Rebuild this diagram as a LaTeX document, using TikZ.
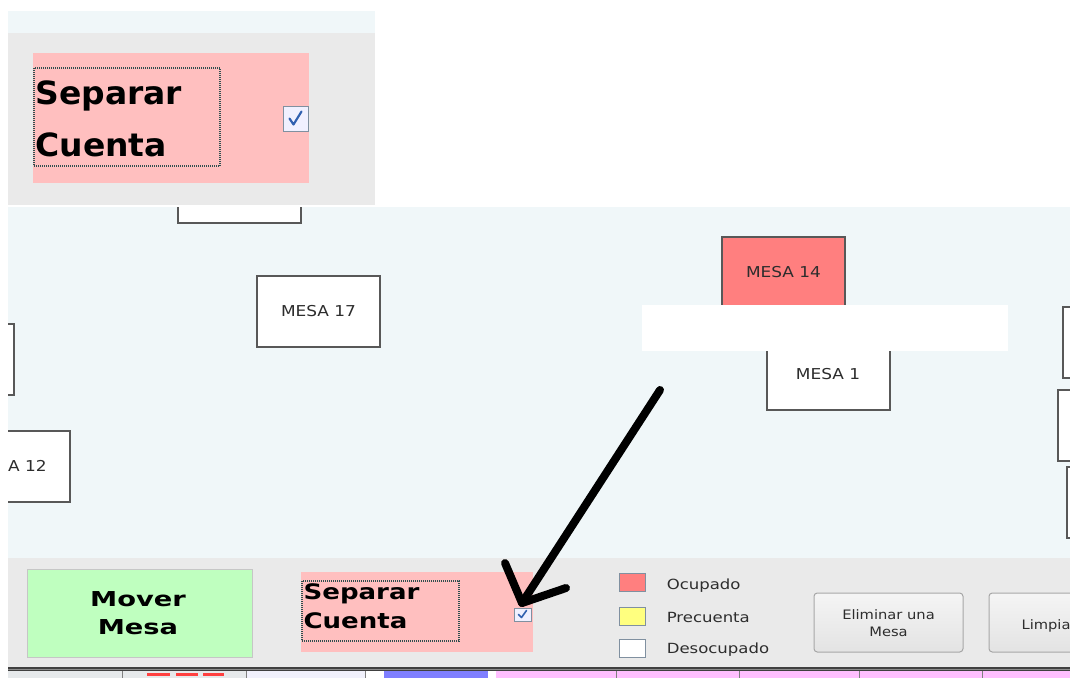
\documentclass[tikz,border=0pt]{standalone}
\usepackage{fontspec}
\setmainfont{DejaVu Sans}
\usepackage{graphicx}

\definecolor{canvasbg}{RGB}{240,247,249}
\definecolor{panelgray}{RGB}{234,234,234}
\definecolor{pinkbtn}{RGB}{255,191,191}
\definecolor{greenbtn}{RGB}{191,255,191}
\definecolor{redmesa}{RGB}{255,127,127}
\definecolor{yelmark}{RGB}{255,255,127}
\definecolor{mesaline}{RGB}{88,88,88}
\definecolor{mesatxt}{RGB}{45,45,45}
\definecolor{dotline}{RGB}{47,79,79}
\definecolor{chkline}{RGB}{128,144,160}
\definecolor{chkblue}{RGB}{48,96,176}
\definecolor{btnline}{RGB}{167,167,167}
\definecolor{stripgray}{RGB}{230,233,235}
\definecolor{stripblue}{RGB}{127,127,255}
\definecolor{strippink}{RGB}{255,191,255}

\newcommand{\wider}[2]{\scalebox{#1}[1]{#2}}

\tikzset{every picture/.style={line width=0.75pt}}
\tikzset{
  mesa/.style={draw=mesaline, line width=1.5pt, fill=white, minimum width=92.25pt,
    minimum height=53.25pt, inner sep=0pt, text=mesatxt, font=\fontsize{11.25}{13}\selectfont},
  dotbox/.style={draw=dotline, line width=1pt, dash pattern=on 0.75pt off 0.75pt},
  chkbox/.style={draw=chkline, fill=blue!6, inner sep=0pt},
  checkmark/.style={draw=chkblue, line width=1.6pt, line cap=round, line join=round},
  legendbox/.style={draw=chkline, minimum width=19.5pt, minimum height=13.5pt, inner sep=0pt},
  legendtxt/.style={anchor=west, inner sep=0.75pt, text=mesatxt, xscale=1.18, font=\fontsize{10.5}{12}\selectfont},
  greybtn/.style={draw=btnline, rounded corners=2.5pt, top color=gray!8, bottom color=gray!22},
  arrowpen/.style={line width=6pt, line cap=round, line join=round}
}

\begin{document}
\begin{tikzpicture}[x=0.75pt,y=0.75pt,yscale=-1,xscale=1]
\useasboundingbox (0,0) rectangle (1070,678);
\clip (0,0) rectangle (1070,678);
\fill[white] (0,0) rectangle (1070,678);

%Shape: Rectangle [canvas]
\fill[canvasbg] (8,207) rectangle (1070,558);

\begin{scope}
\clip (8,207) rectangle (1070,558);
%Tables
\draw (239.5,187.5) node (mTop) [mesa] {};
\draw (318.5,311.5) node (m17) [mesa] {\wider{1.13}{MESA 17}};
\draw (-47.5,359) node (mLeft) [mesa] {};
\draw (8.5,466) node (m12) [mesa] {};
\draw (27.5,466) node (m12txt) [inner sep=0pt, text=mesatxt, font=\fontsize{11.25}{13}\selectfont] {\wider{1.13}{A 12}};
\draw (783.5,272.5) node (m14) [mesa, fill=redmesa] {\wider{1.13}{MESA 14}};
\draw (828,374.5) node (m1) [mesa] {\wider{1.13}{MESA 1}};
\draw (1124.5,342.5) node (mRightA) [mesa] {};
\draw (1119.5,425.5) node (mRightB) [mesa] {};
\draw (1128.5,502.5) node (mRightC) [mesa] {};
\end{scope}

%Shape: Rectangle [white patch]
\fill[white] (642,305) rectangle (1008,351);

%Shape: Rectangle [bottom panel]
\fill[panelgray] (8,558) rectangle (1070,668);
\fill[black!75] (8,667) rectangle (1070,671);
\draw[black!45] (8,669.5) -- (1070,669.5);

%Bottom strip
\fill[stripgray] (8,671) rectangle (246,678);
\fill[stripgray!80!blue!20] (246,671) rectangle (365,678);
\fill[white] (365,671) rectangle (384,678);
\fill[stripblue] (384,671) rectangle (488,678);
\fill[white] (488,671) rectangle (496,678);
\fill[strippink] (496,671) rectangle (1070,678);
\fill[red!75] (147,673) rectangle (170,676);
\fill[red!75] (176,673) rectangle (198,676);
\fill[red!75] (203,673) rectangle (224,676);
\draw[gray] (122,671) -- (122,678);
\draw[gray] (246,671) -- (246,678);
\draw[gray] (365,671) -- (365,678);
\draw[gray] (616,671) -- (616,678);
\draw[gray] (739,671) -- (739,678);
\draw[gray] (859,671) -- (859,678);
\draw[gray] (982,671) -- (982,678);

%Mover Mesa button
\draw[draw=gray!45, fill=greenbtn] (27,569) rectangle (252,657);
\draw (138,613) node (mover) [inner sep=0pt, align=center, xscale=1.33, font=\bfseries\fontsize{15.4}{20.7}\selectfont] {Mover\\Mesa};

%Separar Cuenta (panel)
\fill[pinkbtn] (301,572) rectangle (533,652);
\draw[dotbox] (302,581) rectangle (459,641);
\draw (303,583) node (sepBot) [anchor=north west, inner sep=0pt, align=left, xscale=1.22, font=\bfseries\fontsize{16}{22}\selectfont] {Separar\\Cuenta};
\draw (522.5,614.5) node (chkBot) [chkbox, minimum width=12.75pt, minimum height=9.75pt] {};
\draw[checkmark, line width=1.2pt] ([shift={(-4,0)}]chkBot.center) -- ([shift={(-1,3)}]chkBot.center) -- ([shift={(4,-4)}]chkBot.center);

%Legend
\draw (632,582) node (lgOcu) [legendbox, fill=redmesa] {};
\draw (632,616) node (lgPre) [legendbox, fill=yelmark] {};
\draw (632,648) node (lgDes) [legendbox, fill=white] {};
\draw (665,585.5) node (txOcu) [legendtxt] {Ocupado};
\draw (665,617.5) node (txPre) [legendtxt] {Precuenta};
\draw (665,650) node (txDes) [legendtxt] {Desocupado};

%Grey buttons
\draw[greybtn] (814,593) rectangle (963,652);
\draw (888.5,623) node (elim) [inner sep=0pt, align=center, text=mesatxt, xscale=1.13, font=\fontsize{9.75}{12.75}\selectfont] {Eliminar una\\Mesa};
\draw[greybtn] (989,593) rectangle (1100,652);
\draw (1021,626) node (limp) [anchor=west, inner sep=0pt, text=mesatxt, xscale=1.13, font=\fontsize{9.75}{12.75}\selectfont] {Limpia};

%Top inset
\fill[canvasbg] (8,11) rectangle (375,33);
\fill[panelgray] (8,33) rectangle (375,205);
\fill[pinkbtn] (33,53) rectangle (309,183);
\draw[dotbox] (34,68) rectangle (220,166);
\draw (35,80) node (sepTop) [anchor=north west, inner sep=0pt, align=left, xscale=1.03, font=\bfseries\fontsize{24}{39}\selectfont] {Separar\\Cuenta};
\draw (295.5,118.5) node (chkTop) [chkbox, minimum size=18.75pt] {};
\draw[checkmark] ([shift={(-6,0)}]chkTop.center) -- ([shift={(-2,6)}]chkTop.center) -- ([shift={(6,-7)}]chkTop.center);

%Hand-drawn arrow
\coordinate (tail) at (660,390);
\coordinate (tip) at (522,603);
\coordinate (armL) at (505,563);
\coordinate (armR) at (566,588);
\draw[arrowpen] (tail) -- (tip);
\draw[arrowpen] (armL) -- (tip) -- (armR);

\end{tikzpicture}
\end{document}
